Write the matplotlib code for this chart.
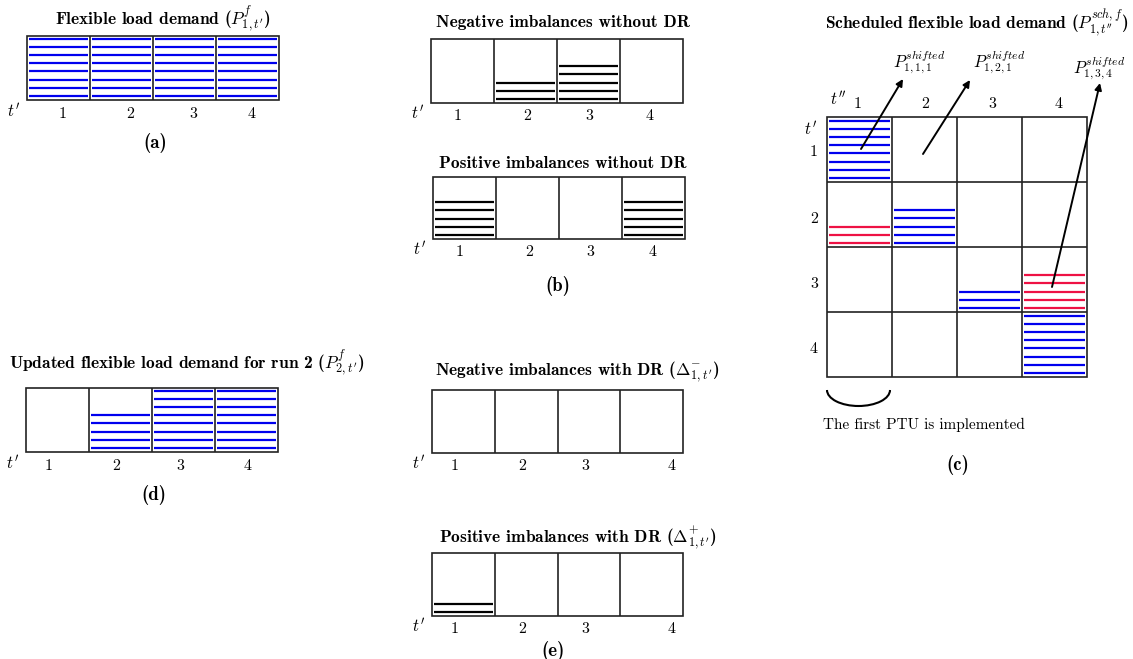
import numpy as np
import matplotlib
matplotlib.use("Agg")
import matplotlib.pyplot as plt
from matplotlib.patches import Rectangle, Arc

plt.rcParams["mathtext.fontset"] = "cm"
plt.rcParams["axes.formatter.use_mathtext"] = True

# ---- data: number of stripes (energy blocks) in each PTU cell
ptu_labels = ["1", "2", "3", "4"]
flex_run1 = [8, 8, 8, 8]      # (a)
neg_no_dr = [0, 3, 5, 0]      # (b) top
pos_no_dr = [5, 0, 0, 5]      # (b) bottom
flex_run2 = [0, 5, 8, 8]      # (d)
neg_dr = [0, 0, 0, 0]         # (e) top
pos_dr = [2, 0, 0, 0]         # (e) bottom
# (c) scheduled grid, rows = t', cols = t''
sched_blue = [[8, 0, 0, 0],
              [0, 5, 0, 0],
              [0, 0, 3, 0],
              [0, 0, 0, 8]]
sched_red = [[0, 0, 0, 0],
             [3, 0, 0, 0],
             [0, 0, 0, 5],
             [0, 0, 0, 0]]
shift_labels = [r"$P^{shifted}_{1,1,1}$", r"$P^{shifted}_{1,2,1}$", r"$P^{shifted}_{1,3,4}$"]

BLUE = "#0000ee"
RED = "#ee1144"
EDGE = "#222222"
GAP = 8.2   # px between stripes

fig = plt.figure(figsize=(11.33, 6.59), dpi=100)
ax = fig.add_axes([0, 0, 1, 1])
ax.set_xlim(0, 1133)
ax.set_ylim(659, 0)
ax.axis("off")

bold = dict(family="cmb10", fontsize=12.5, ha="center", va="center")
letter = dict(family="cmb10", fontsize=13.5, ha="center", va="center")
reg = dict(family="cmr10", fontsize=11.5, ha="center", va="center")


def stripes(x0, x1, ybot, n, color, start=0):
    if n == 0:
        return
    ys = ybot - 4 - GAP * (start + np.arange(n))
    ax.hlines(ys, x0 + 2, x1 - 2, color=color, lw=1.6)


def strip_panel(x0, y0, w, h, counts, color, title, ty, tick_x, tick_y):
    cw = w / len(counts)
    ax.add_patch(Rectangle((x0, y0), w, h, fill=False, ec=EDGE, lw=1.2))
    ax.vlines(x0 + cw * np.arange(1, len(counts)), y0, y0 + h, color=EDGE, lw=1.2)
    for i, n in enumerate(counts):
        stripes(x0 + i * cw, x0 + (i + 1) * cw, y0 + h, n, color)
    ax.text(x0 + w / 2 + title[1], ty, title[0], **bold)
    for lab, tx in zip(ptu_labels, tick_x):
        ax.text(tx, tick_y, lab, **reg)
    ax.text(x0 - 13, tick_y - 2, r"$t'$", fontsize=12, ha="center", va="center")


# (a)
strip_panel(27, 36, 252, 64, flex_run1, BLUE,
            (r"Flexible load demand ($P^{f}_{1,t'}$)", 10), 19,
            [63, 130, 193, 252], 114)
ax.text(155, 143, "(a)", **letter)

# (b)
strip_panel(431, 39, 252, 64, neg_no_dr, "black",
            ("Negative imbalances without DR", 6), 22,
            [458, 527, 589, 650], 116)
strip_panel(433, 177, 252, 62, pos_no_dr, "black",
            ("Positive imbalances without DR", 4), 164,
            [460, 529, 590, 653], 252)
ax.text(558, 286, "(b)", **letter)

# (d)
strip_panel(26, 388, 252, 64, flex_run2, BLUE,
            (r"Updated flexible load demand for run 2 ($P^{f}_{2,t'}$)", 35), 363,
            [49, 116, 180, 248], 466)
ax.text(154, 495, "(d)", **letter)

# (e)
strip_panel(432, 390, 251, 63, neg_dr, "black",
            (r"Negative imbalances with DR ($\Delta^{-}_{1,t'}$)", 20), 372,
            [455, 522, 585, 672], 466)
strip_panel(432, 553, 251, 63, pos_dr, "black",
            (r"Positive imbalances with DR ($\Delta^{+}_{1,t'}$)", 20), 538,
            [455, 522, 585, 672], 629)
ax.text(553, 651, "(e)", **letter)

# (c) scheduled grid
gx, gy, cs = 827, 117, 65
nrow, ncol = len(sched_blue), len(sched_blue[0])
ax.add_patch(Rectangle((gx, gy), cs * ncol, cs * nrow, fill=False, ec=EDGE, lw=1.2))
ax.vlines(gx + cs * np.arange(1, ncol), gy, gy + cs * nrow, color=EDGE, lw=1.2)
ax.hlines(gy + cs * np.arange(1, nrow), gx, gx + cs * ncol, color=EDGE, lw=1.2)
for r in range(nrow):
    for c in range(ncol):
        xa, xb, yb = gx + c * cs, gx + (c + 1) * cs, gy + (r + 1) * cs
        stripes(xa, xb, yb, sched_blue[r][c], BLUE)
        stripes(xa, xb, yb, sched_red[r][c], RED, start=sched_blue[r][c])

ax.text(977, 23, r"Scheduled flexible load demand ($P^{sch,f}_{1,t''}$)", **bold)
ax.text(838, 100, r"$t''$", fontsize=12, ha="center", va="center")
ax.text(811, 130, r"$t'$", fontsize=12, ha="center", va="center")
for i, lab in enumerate(ptu_labels):
    ax.text(gx + cs * i + 31 + 2 * i, 104, lab, **reg)
    ax.text(814, gy + cs * i + 37 - 2 * (i == 0), lab, **reg)

arrow_start = [(861, 149), (923, 154), (1052, 287)]
arrow_tip = [(903, 79), (970, 80), (1100, 83)]
label_pos = [(919, 62), (999, 62), (1099, 68)]
for lab, p0, p1, lp in zip(shift_labels, arrow_start, arrow_tip, label_pos):
    ax.annotate("", xy=p1, xytext=p0,
                arrowprops=dict(arrowstyle="-|>", lw=1.4, color="black",
                                mutation_scale=10, shrinkA=0, shrinkB=0))
    ax.text(lp[0], lp[1], lab, fontsize=12, ha="center", va="center")

ax.add_patch(Arc((858.5, 390), 63, 32, theta1=0, theta2=180, lw=1.5, color="black"))
ax.text(823, 425, "The first PTU is implemented", family="cmr10", fontsize=11,
        ha="left", va="center")
ax.text(958, 465, "(c)", **letter)

fig.savefig("out.png", dpi=100)
